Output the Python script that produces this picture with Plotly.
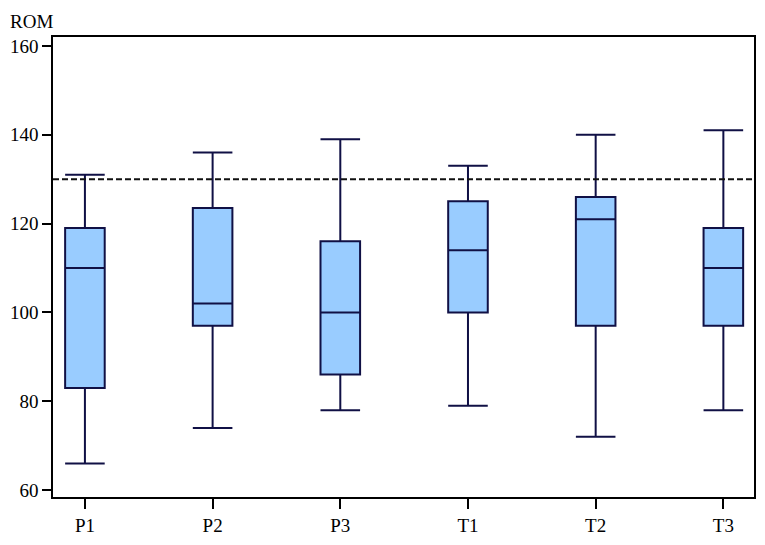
import plotly.graph_objects as go

groups = ["P1", "P2", "P3", "T1", "T2", "T3"]
lower = [66, 74, 78, 79, 72, 78]
q1 = [83, 97, 86, 100, 97, 97]
median = [110, 102, 100, 114, 121, 110]
q3 = [119, 123.5, 116, 125, 126, 119]
upper = [131, 136, 139, 133, 140, 141]
reference_line = 130

fig = go.Figure()
fig.add_trace(go.Box(
    x=groups,
    q1=q1,
    median=median,
    q3=q3,
    lowerfence=lower,
    upperfence=upper,
    width=0.31,
    whiskerwidth=1,
    fillcolor="#99CCFF",
    line=dict(color="#101045", width=2),
    boxpoints=False,
    showlegend=False,
))

# dashed reference line across the plot
fig.add_shape(type="line", xref="paper", x0=0, x1=1, yref="y",
              y0=reference_line, y1=reference_line,
              line=dict(color="#111111", width=2, dash="6px,3px"))

font = dict(family="Liberation Serif", size=19, color="black")

fig.add_annotation(text="ROM", xref="paper", yref="paper", x=-0.064, y=1.06,
                   xanchor="left", yanchor="top", showarrow=False, font=font)

fig.update_xaxes(
    range=[-0.25, 5.24],
    showline=True, mirror=True, linecolor="black", linewidth=1.5,
    ticks="outside", ticklen=10, tickwidth=1.5, tickcolor="black",
    showgrid=False, tickfont=font,
)
fig.update_yaxes(
    range=[58.45, 162],
    tickvals=[60, 80, 100, 120, 140, 160],
    showline=True, mirror=True, linecolor="black", linewidth=1.5,
    ticks="outside", ticklen=9, tickwidth=1.5, tickcolor="black",
    showgrid=False, zeroline=False, tickfont=font,
)
# page body has an 8px margin, so the figure is sized to fit inside it
fig.update_layout(
    width=749, height=529,
    margin=dict(l=45, r=1, t=29, b=33),
    plot_bgcolor="white", paper_bgcolor="white",
)

fig.write_html("out.html")
